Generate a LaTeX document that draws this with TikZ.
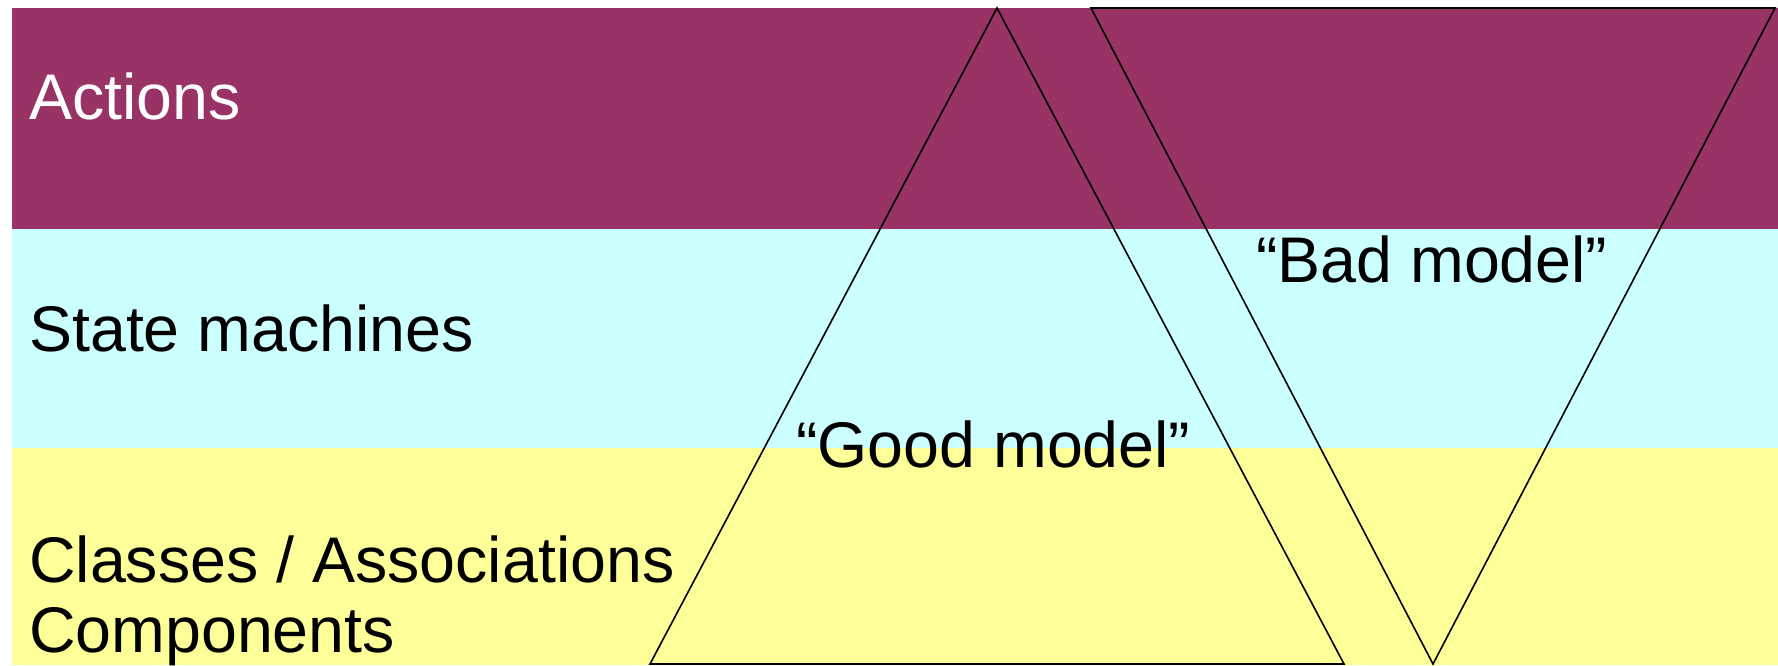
\documentclass[tikz,border=0pt]{standalone}
\usepackage{fontspec}
\setmainfont{Liberation Sans}
\definecolor{bandA}{HTML}{993366}
\definecolor{bandB}{HTML}{CCFFFF}
\definecolor{bandC}{HTML}{FFFF99}
\tikzset{
  lbl/.style={anchor=base west, inner sep=0pt, font=\fontsize{64.5}{70}\selectfont},
  tri/.style={draw=black, line width=1.6pt, line join=miter}
}
\begin{document}
\begin{tikzpicture}[x=1pt,y=-1pt]
\useasboundingbox (0,0) rectangle (1778,665);
\fill[white] (0,0) rectangle (1778,665);
\fill[bandA] (12,8) rectangle (1778,229);
\fill[bandB] (12,229) rectangle (1778,448);
\fill[bandC] (12,448) rectangle (1778,665);
\node[lbl, text=white] (act) at (29,119.5) {Actions};
\node[lbl] (sm) at (29,351.5) {State machines};
\node[lbl] (cls) at (29,582) {Classes / Associations};
\node[lbl] (cmp) at (29,652) {Components};
\coordinate (g1) at (997,8);
\coordinate (g2) at (1344,664);
\coordinate (g3) at (650,664);
\draw[tri] (g1) -- (g2) -- (g3) -- cycle;
\coordinate (b1) at (1091,8);
\coordinate (b2) at (1775,8);
\coordinate (b3) at (1433,664);
\draw[tri] (b1) -- (b2) -- (b3) -- cycle;
\node[lbl] (good) at (796,467) {“Good model”};
\node[lbl] (bad) at (1256,282) {“Bad model”};
\end{tikzpicture}
\end{document}
